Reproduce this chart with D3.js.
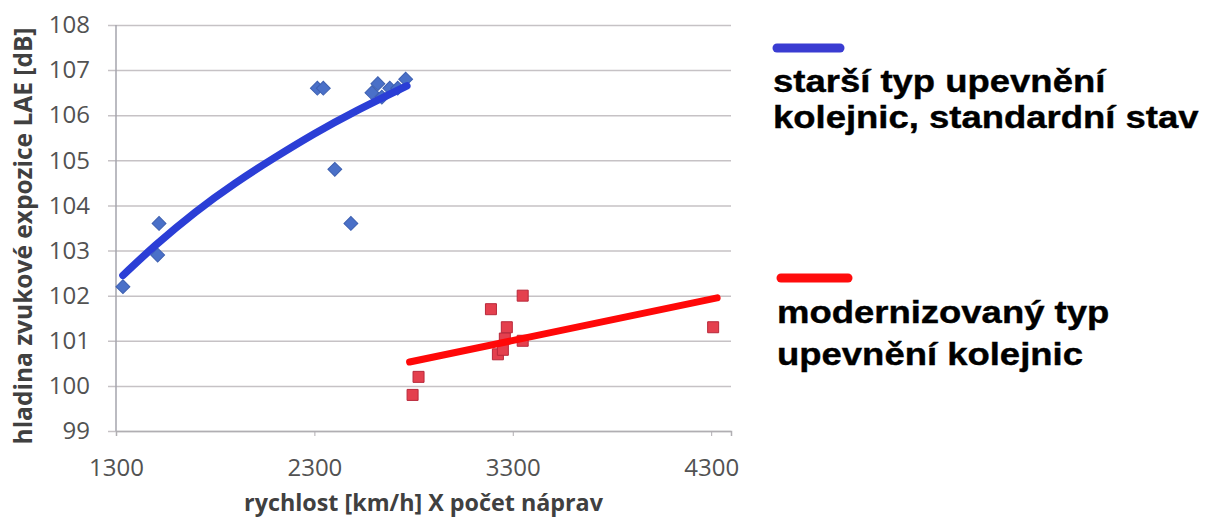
<!DOCTYPE html>
<html>
<head>
<meta charset="utf-8">
<script src="https://cdn.jsdelivr.net/npm/d3@7"></script>
<style>
  body { margin: 0; background: #fff; }
  .tick text { font-family: "Open Sans", sans-serif; fill: #525252; }
</style>
</head>
<body>
<div id="chart"></div>
<script>
// tick values of both axes
var xTicks = [1300, 2300, 3300, 4300];
var yTicks = [99, 100, 101, 102, 103, 104, 105, 106, 107, 108];

// older rail fastening, standard state (blue diamonds)
var oldX = [1335, 1510, 1517, 2315, 2345, 2403, 2484, 2590, 2620, 2640, 2680, 2720, 2760];
var oldY = [102.2, 102.9, 103.6, 106.6, 106.6, 104.8, 103.6, 106.5, 106.7, 106.4, 106.6, 106.6, 106.8];

// modernised rail fastening (red squares)
var newX = [2795, 2825, 3190, 3350, 3270, 3350, 3225, 3250, 3260, 4310];
var newY = [99.8, 100.2, 101.7, 102.0, 101.3, 101.0, 100.7, 100.8, 101.05, 101.3];

// trend lines
var oldTrendX = [1335, 1500, 1700, 1900, 2100, 2300, 2500, 2766];
var oldTrendY = [102.45, 103.12, 103.85, 104.49, 105.06, 105.59, 106.07, 106.65];
var newTrendX = [2780, 4330];
var newTrendY = [100.53, 101.95];

// legend texts
var legendOld = ["starší typ upevnění", "kolejnic, standardní stav"];
var legendNew = ["modernizovaný typ", "upevnění kolejnic"];

// margins of the plot area
var margin = { top: 25, right: 476, bottom: 91, left: 116 },
  width = 1207 - margin.left - margin.right,
  height = 522 - margin.top - margin.bottom;

var x = d3.scaleLinear().domain([1300, 4400]).range([0, width]);
var y = d3.scaleLinear().domain([99, 108]).range([height, 0]);

var root = d3
  .select("#chart")
  .append("svg")
  .attr("width", 1207)
  .attr("height", 522);

var svg = root
  .append("g")
  .attr("transform", "translate(" + margin.left + "," + margin.top + ")");

// horizontal gridlines (they stick out a bit left of the axis)
svg
  .append("g")
  .attr("transform", "translate(-8,0)")
  .call(d3.axisLeft(y).tickValues(yTicks).tickSize(-width - 8).tickFormat(""))
  .call(g => g.select(".domain").remove())
  .selectAll("line")
  .attr("stroke", "#c6c2c5")
  .attr("stroke-width", 1.5);

// y axis labels
svg
  .append("g")
  .call(d3.axisLeft(y).tickValues(yTicks).tickSize(0).tickPadding(26))
  .call(g => g.select(".domain").remove())
  .selectAll("text")
  .style("font-size", "24px");

// y axis line
svg
  .append("line")
  .attr("x1", 0)
  .attr("x2", 0)
  .attr("y1", 0)
  .attr("y2", height)
  .attr("stroke", "#a4a4ac")
  .attr("stroke-width", 1.5);

// x axis
var xAxis = svg
  .append("g")
  .attr("transform", "translate(0," + height + ")")
  .call(d3.axisBottom(x).tickValues(xTicks).tickSizeOuter(0).tickSize(5).tickPadding(23).tickFormat(d3.format("d")));
xAxis.select(".domain").attr("stroke", "#b0aeb2").attr("stroke-width", 1.5);
xAxis.selectAll("line").attr("stroke", "#b0aeb2");
xAxis.selectAll("text").style("font-size", "24px");

// axis titles
root
  .append("text")
  .attr("transform", "translate(32," + 236 + ") rotate(-90)")
  .attr("text-anchor", "middle")
  .style("font-family", "Open Sans, sans-serif")
  .style("font-weight", 700)
  .style("font-size", "24.5px")
  .style("fill", "#404040")
  .text("hladina zvukové expozice LAE [dB]");

root
  .append("text")
  .attr("x", margin.left + width / 2)
  .attr("y", 511)
  .attr("text-anchor", "middle")
  .style("font-family", "Open Sans, sans-serif")
  .style("font-weight", 700)
  .style("font-size", "23.3px")
  .style("fill", "#404040")
  .text("rychlost [km/h] X počet náprav");

// points
var oldPts = oldX.map((d, i) => ({ x: d, y: oldY[i] }));
var newPts = newX.map((d, i) => ({ x: d, y: newY[i] }));

svg
  .selectAll(".dia")
  .data(oldPts)
  .enter()
  .append("path")
  .attr("class", "dia")
  .attr("d", d3.symbol(d3.symbolSquare, 96))
  .attr("transform", d => "translate(" + x(d.x) + "," + y(d.y) + ") rotate(45)")
  .attr("fill", "#4a70c8")
  .attr("stroke", "#3d5fb0")
  .attr("stroke-width", 1);

svg
  .selectAll(".sq")
  .data(newPts)
  .enter()
  .append("path")
  .attr("class", "sq")
  .attr("d", d3.symbol(d3.symbolSquare, 121))
  .attr("transform", d => "translate(" + x(d.x) + "," + y(d.y) + ")")
  .attr("fill", "#e4404e")
  .attr("stroke", "#b8283a")
  .attr("stroke-width", 1);

// trend lines
var trend = d3
  .line()
  .x(d => x(d.x))
  .y(d => y(d.y))
  .curve(d3.curveNatural);

svg
  .append("path")
  .datum(oldTrendX.map((d, i) => ({ x: d, y: oldTrendY[i] })))
  .attr("d", trend)
  .attr("fill", "none")
  .attr("stroke", "#2b3ed6")
  .attr("stroke-width", 7.5)
  .attr("stroke-linecap", "round");

svg
  .append("path")
  .datum(newTrendX.map((d, i) => ({ x: d, y: newTrendY[i] })))
  .attr("d", trend)
  .attr("fill", "none")
  .attr("stroke", "#ff0808")
  .attr("stroke-width", 7)
  .attr("stroke-linecap", "round");

// legend
function legendBlock(color, x1, x2, ly, lines, tx, baselines) {
  root
    .append("line")
    .attr("x1", x1)
    .attr("x2", x2)
    .attr("y1", ly)
    .attr("y2", ly)
    .attr("stroke", color)
    .attr("stroke-width", 9)
    .attr("stroke-linecap", "round");
  lines.forEach(function(t, i) {
    root
      .append("text")
      .attr("transform", "translate(" + tx + "," + baselines[i] + ") scale(1.14,1)")
      .style("font-family", "Liberation Sans, Arial, sans-serif")
      .style("font-weight", 700)
      .style("font-size", "32px")
      .style("fill", "#000")
      .style("stroke", "#000")
      .style("stroke-width", 0.4)
      .text(t);
  });
}

legendBlock("#3a3cd2", 777, 840, 48, legendOld, 773, [92, 128]);
legendBlock("#ff0c0c", 781, 848, 278, legendNew, 777, [323, 365]);
</script>
</body>
</html>
